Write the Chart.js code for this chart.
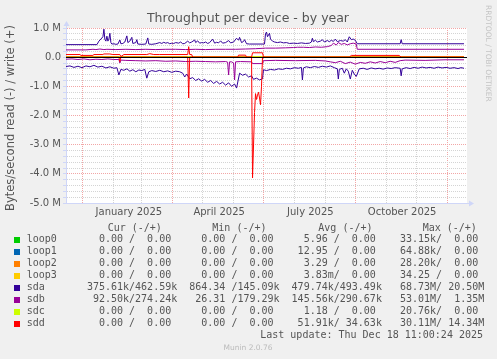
<!DOCTYPE html>
<html lang="en">
<head>
<meta charset="UTF-8">
<title>Throughput per device - by year</title>
<script src="https://cdn.jsdelivr.net/npm/chart.js"></script>
<style>
  html, body { margin: 0; padding: 0; background: #f0f0f0; }
  canvas { display: block; }
</style>
</head>
<body>
<canvas id="throughput" width="497" height="359"></canvas>
<script>
// x = days since the left edge of the graph, y = MB/s (read drawn below zero)
const idleDays = [0, 399];
const idleVals = [0, 0];

const sdaWriteDays = [0, 31, 33, 35, 37, 38, 39, 40, 41, 42, 43, 44, 45, 46, 48, 50, 52, 54, 55, 57, 59, 61, 62, 64, 66, 67, 70, 71, 72, 76, 80, 82, 83, 86, 90, 94, 96, 98, 100, 102, 104, 106, 108, 110, 113, 115, 117, 119, 122, 124, 126, 129, 130, 132, 134, 136, 138, 140, 142, 144, 147, 149, 151, 153, 155, 157, 160, 163, 165, 168, 171, 173, 174, 176, 178, 179, 181, 184, 199, 200, 201, 202, 204, 205, 207, 209, 212, 215, 218, 221, 224, 228, 232, 236, 240, 244, 246, 247, 248, 250, 252, 255, 257, 259, 262, 264, 266, 268, 270, 272, 275, 278, 280, 282, 284, 286, 288, 290, 292, 335, 336, 337, 399];
const sdaWriteVals = [0.43, 0.43, 0.55, 0.62, 0.70, 0.96, 0.60, 0.55, 0.72, 0.55, 0.62, 0.82, 0.50, 0.45, 0.46, 0.44, 0.45, 0.59, 0.46, 0.47, 0.52, 0.73, 0.50, 0.55, 0.68, 0.47, 0.50, 0.60, 0.45, 0.44, 0.45, 0.66, 0.45, 0.44, 0.46, 0.50, 0.47, 0.51, 0.48, 0.50, 0.46, 0.48, 0.47, 0.50, 0.48, 0.52, 0.46, 0.47, 0.55, 0.49, 0.52, 0.59, 0.50, 0.56, 0.48, 0.50, 0.49, 0.52, 0.47, 0.50, 0.62, 0.48, 0.51, 0.49, 0.56, 0.48, 0.50, 0.57, 0.49, 0.52, 0.65, 0.58, 0.68, 0.50, 0.54, 0.60, 0.46, 0.45, 0.45, 0.80, 0.86, 0.70, 0.82, 0.62, 0.55, 0.52, 0.50, 0.52, 0.49, 0.50, 0.47, 0.48, 0.47, 0.49, 0.47, 0.48, 0.52, 0.65, 0.53, 0.58, 0.52, 0.55, 0.60, 0.52, 0.57, 0.53, 0.58, 0.54, 0.62, 0.53, 0.57, 0.55, 0.60, 0.52, 0.70, 0.60, 0.62, 0.58, 0.46, 0.46, 0.60, 0.46, 0.46];

const sdaReadDays = [0, 4, 8, 12, 16, 20, 24, 28, 32, 36, 40, 44, 48, 51, 53, 55, 58, 61, 64, 67, 70, 73, 76, 79, 81, 83, 86, 90, 94, 98, 102, 106, 110, 114, 117, 119, 121, 124, 127, 130, 133, 136, 139, 142, 145, 148, 151, 154, 157, 160, 163, 166, 169, 171, 174, 177, 180, 183, 186, 188, 191, 194, 197, 198, 201, 205, 209, 213, 217, 221, 225, 229, 233, 236, 237, 238, 241, 245, 249, 253, 257, 261, 265, 269, 272, 273, 274, 277, 279, 281, 283, 285, 287, 289, 291, 294, 298, 302, 306, 310, 314, 318, 322, 326, 330, 335, 336, 337, 341, 345, 349, 353, 357, 361, 365, 369, 373, 377, 381, 385, 389, 393, 396, 399];
const sdaReadVals = [0.32, 0.30, 0.35, 0.31, 0.36, 0.30, 0.33, 0.28, 0.34, 0.31, 0.37, 0.33, 0.38, 0.36, 0.61, 0.42, 0.45, 0.40, 0.48, 0.43, 0.50, 0.44, 0.46, 0.42, 0.72, 0.50, 0.46, 0.49, 0.45, 0.50, 0.47, 0.52, 0.48, 0.50, 0.55, 0.68, 0.58, 0.74, 0.70, 0.80, 0.74, 0.82, 0.76, 0.86, 0.80, 0.90, 0.83, 0.92, 0.86, 0.96, 0.88, 1.00, 0.92, 1.06, 0.55, 0.62, 0.58, 0.68, 0.64, 0.76, 0.72, 0.78, 0.74, 0.43, 0.46, 0.42, 0.44, 0.40, 0.42, 0.38, 0.40, 0.36, 0.38, 0.35, 0.78, 0.37, 0.33, 0.36, 0.32, 0.35, 0.31, 0.34, 0.30, 0.36, 0.40, 0.75, 0.42, 0.38, 0.55, 0.40, 0.48, 0.75, 0.45, 0.58, 0.66, 0.40, 0.38, 0.42, 0.37, 0.40, 0.38, 0.41, 0.37, 0.39, 0.36, 0.38, 0.64, 0.40, 0.36, 0.39, 0.35, 0.38, 0.34, 0.37, 0.35, 0.38, 0.34, 0.37, 0.35, 0.38, 0.36, 0.39, 0.36, 0.38];

const sdbWriteDays = [0, 20, 27, 30, 34, 38, 41, 50, 60, 70, 80, 90, 100, 110, 120, 130, 140, 150, 160, 170, 180, 190, 200, 210, 220, 228, 232, 238, 244, 250, 256, 262, 266, 268, 271, 273, 276, 279, 282, 285, 288, 291, 292, 399];
const sdbWriteVals = [0.25, 0.25, 0.27, 0.26, 0.28, 0.26, 0.27, 0.26, 0.27, 0.26, 0.27, 0.26, 0.27, 0.27, 0.26, 0.27, 0.26, 0.27, 0.27, 0.27, 0.28, 0.29, 0.31, 0.31, 0.32, 0.33, 0.34, 0.34, 0.33, 0.35, 0.34, 0.36, 0.40, 0.48, 0.42, 0.50, 0.44, 0.47, 0.42, 0.46, 0.48, 0.45, 0.27, 0.27];

const sdbReadDays = [0, 6, 12, 18, 24, 30, 36, 42, 48, 53, 54, 55, 60, 70, 80, 90, 100, 110, 120, 130, 140, 150, 160, 162, 163, 164, 166, 168, 169, 170, 175, 186, 187, 197, 198, 210, 230, 250, 260, 265, 270, 275, 280, 285, 290, 295, 300, 305, 310, 315, 320, 325, 330, 335, 340, 360, 380, 399];
const sdbReadVals = [0.07, 0.06, 0.08, 0.06, 0.09, 0.07, 0.08, 0.06, 0.08, 0.08, 0.20, 0.10, 0.11, 0.12, 0.13, 0.12, 0.14, 0.13, 0.15, 0.14, 0.15, 0.16, 0.15, 0.17, 0.61, 0.16, 0.16, 0.20, 0.78, 0.16, 0.15, 0.16, 0.22, 0.22, 0.12, 0.11, 0.12, 0.11, 0.13, 0.16, 0.19, 0.14, 0.22, 0.17, 0.24, 0.18, 0.21, 0.16, 0.20, 0.15, 0.19, 0.14, 0.18, 0.12, 0.10, 0.11, 0.09, 0.09];

const sddWriteDays = [0, 14, 15, 27, 28, 37, 38, 44, 47, 54, 55, 58, 81, 84, 88, 94, 122, 123, 124, 126, 127, 172, 173, 180, 181, 186, 187, 197, 198, 284, 286, 334, 336, 399];
const sddWriteVals = [0.09, 0.09, 0.06, 0.06, 0.09, 0.09, 0.11, 0.11, 0.09, 0.09, 0.02, 0.09, 0.09, 0.12, 0.09, 0.09, 0.09, 0.36, 0.09, 0.09, 0, 0, 0.07, 0.07, 0, 0, 0.15, 0.15, 0, 0, 0.06, 0.06, 0, 0];

const sddReadDays = [0, 53, 54, 55, 122, 123, 124, 186, 187, 189, 190, 191, 192, 193, 194, 195, 196, 197, 399];
const sddReadVals = [0, 0, 0.15, 0, 0, 1.40, 0, 0, 4.14, 1.90, 1.25, 1.45, 1.30, 1.20, 1.40, 1.63, 1.00, 0, 0];

// legend table
const devices = ['loop0', 'loop1', 'loop2', 'loop3', 'sda', 'sdb', 'sdc', 'sdd'];
const deviceColors = ['#00CC00', '#0066B3', '#FF8000', '#FFCC00', '#330099', '#990099', '#CCFF00', '#FF0000'];
const curRead = ['0.00', '0.00', '0.00', '0.00', '375.61k', '92.50k', '0.00', '0.00'];
const curWrite = ['0.00', '0.00', '0.00', '0.00', '462.59k', '274.24k', '0.00', '0.00'];
const minRead = ['0.00', '0.00', '0.00', '0.00', '864.34', '26.31', '0.00', '0.00'];
const minWrite = ['0.00', '0.00', '0.00', '0.00', '145.09k', '179.29k', '0.00', '0.00'];
const avgRead = ['5.96', '12.95', '3.29', '3.83m', '479.74k', '145.56k', '1.18', '51.91k'];
const avgWrite = ['0.00', '0.00', '0.00', '0.00', '493.49k', '290.67k', '0.00', '34.63k'];
const maxRead = ['33.15k', '64.88k', '28.20k', '34.25', '68.73M', '53.01M', '20.76k', '30.11M'];
const maxWrite = ['0.00', '0.00', '0.00', '0.00', '20.50M', '1.35M', '0.00', '14.34M'];

// axis ticks: month starts (days), quarter starts get the red grid; MB/s step for the y grid
const monthDays = [17, 48, 76, 107, 137, 168, 198, 229, 260, 290, 321, 351, 382];
const quarterDays = [17, 107, 198, 290, 382];
const quarterLabels = ['January 2025', 'April 2025', 'July 2025', 'October 2025'];
const yMin = -5, yMax = 1, yMinorStep = 0.2;

const seriesData = [
    [idleDays, idleVals, idleDays, idleVals],
    [idleDays, idleVals, idleDays, idleVals],
    [idleDays, idleVals, idleDays, idleVals],
    [idleDays, idleVals, idleDays, idleVals],
    [sdaReadDays, sdaReadVals, sdaWriteDays, sdaWriteVals],
    [sdbReadDays, sdbReadVals, sdbWriteDays, sdbWriteVals],
    [idleDays, idleVals, idleDays, idleVals],
    [sddReadDays, sddReadVals, sddWriteDays, sddWriteVals]
];

function pts(xs, ys, sign) {
    return xs.map((x, i) => ({ x: x, y: sign * ys[i] }));
}

const datasets = [];
devices.forEach((dev, i) => {
    const [rx, ry, wx, wy] = seriesData[i];
    datasets.push({ label: dev + ' read', data: pts(rx, ry, -1), borderColor: deviceColors[i] });
    datasets.push({ label: dev + ' write', data: pts(wx, wy, 1), borderColor: deviceColors[i] });
});
// first dataset is drawn on top in Chart.js, rrdtool draws the last one on top
datasets.reverse();

const labelTicks = quarterLabels.map((l, i) => (quarterDays[i] + quarterDays[i + 1]) / 2 + 1);
const xTickValues = monthDays.concat(labelTicks).sort((a, b) => a - b);
const yTickValues = [];
const nSteps = Math.round((yMax - yMin) / yMinorStep);
for (let i = 0; i <= nSteps; i++) yTickValues.push(+(yMin + i * yMinorStep).toFixed(2));

const isInt = v => Math.abs(v - Math.round(v)) < 1e-6;
const TEXT = '#555555';
const AXIS = '#CFD6F8';
const MINOR = '#d4d4d4';
const MAJOR = '#f2a6a6';

function fmt(s) {
    const m = s.match(/^([\d.]+)([a-zA-Z]?)$/);
    return m[1].padStart(6) + (m[2] || ' ');
}

// dotted rrdtool-style grid, painted underneath what is already on the canvas
function drawGridBehind(chart) {
    const { ctx, chartArea: a, scales } = chart;
    const L = Math.round(a.left), R = Math.round(a.right);
    const T = Math.round(a.top), B = Math.round(a.bottom);
    ctx.save();
    ctx.globalCompositeOperation = 'destination-over';
    yScaleLines(scales.y).forEach(([y, major]) => {
        ctx.fillStyle = major ? MAJOR : MINOR;
        for (let x = L + 1; x < R; x += 2) ctx.fillRect(x, y, 1, 1);
    });
    monthDays.forEach(d => {
        const x = Math.floor(scales.x.getPixelForValue(d));
        ctx.fillStyle = quarterDays.includes(d) ? MAJOR : MINOR;
        for (let y = T; y < B; y += 2) ctx.fillRect(x, y, 1, 1);
    });
    ctx.fillStyle = '#ffffff';
    ctx.fillRect(a.left, a.top, a.right - a.left, a.bottom - a.top);
    ctx.fillStyle = '#f0f0f0';
    ctx.fillRect(0, 0, chart.width, chart.height);
    ctx.restore();
}

function yScaleLines(yScale) {
    const out = [];
    for (let i = 0; i < yScale.ticks.length; i++) {
        const v = yScale.ticks[i].value;
        if (v <= yMin) continue;
        out.push([Math.floor(yScale.getPixelForTick(i)), isInt(v)]);
    }
    return out;
}

const rrdPlugin = {
    id: 'rrd',
    afterDatasetsDraw(chart) {
        const { ctx, chartArea: a } = chart;
        const y0 = Math.floor(chart.scales.y.getPixelForValue(0)) + 0.5;
        ctx.save();
        ctx.strokeStyle = '#000000';
        ctx.lineWidth = 1;
        ctx.beginPath();
        ctx.moveTo(a.left, y0);
        ctx.lineTo(a.right, y0);
        ctx.stroke();
        ctx.restore();
    },
    afterDraw(chart) {
        const { ctx, chartArea: a } = chart;
        drawGridBehind(chart);
        ctx.save();

        // axis arrows
        ctx.fillStyle = AXIS;
        ctx.strokeStyle = AXIS;
        ctx.lineWidth = 1;
        ctx.beginPath();
        ctx.moveTo(a.left + 0.5, a.top);
        ctx.lineTo(a.left + 0.5, a.top - 4);
        ctx.moveTo(a.right, a.bottom + 0.5);
        ctx.lineTo(a.right + 3, a.bottom + 0.5);
        ctx.stroke();
        ctx.beginPath();
        ctx.moveTo(a.left + 0.5, a.top - 7);
        ctx.lineTo(a.left - 2.5, a.top - 2);
        ctx.lineTo(a.left + 3.5, a.top - 2);
        ctx.closePath();
        ctx.fill();
        ctx.beginPath();
        ctx.moveTo(a.right + 7, a.bottom + 0.5);
        ctx.lineTo(a.right + 2, a.bottom - 2.5);
        ctx.lineTo(a.right + 2, a.bottom + 3.5);
        ctx.closePath();
        ctx.fill();

        // title
        ctx.fillStyle = TEXT;
        ctx.font = '12.5px "DejaVu Sans"';
        ctx.textAlign = 'center';
        ctx.textBaseline = 'middle';
        ctx.fillText('Throughput per device - by year', 248, 19);

        // vertical axis title
        ctx.save();
        ctx.translate(11, 118);
        ctx.rotate(-Math.PI / 2);
        ctx.font = '11.5px "DejaVu Sans"';
        ctx.fillText('Bytes/second read (-) / write (+)', 0, 0);
        ctx.restore();

        // rrdtool watermark
        ctx.save();
        ctx.translate(488, 5);
        ctx.rotate(Math.PI / 2);
        ctx.font = '7.5px "DejaVu Sans"';
        ctx.textAlign = 'left';
        ctx.fillStyle = '#c4c4c4';
        ctx.fillText('RRDTOOL / TOBI OETIKER', 0, 0);
        ctx.restore();

        // legend
        ctx.font = '10px "DejaVu Sans Mono"';
        ctx.textAlign = 'left';
        ctx.fillStyle = TEXT;
        ctx.fillText('Cur (-/+)', 107.7, 228);
        ctx.fillText('Min (-/+)', 212.3, 228);
        ctx.fillText('Avg (-/+)', 318.3, 228);
        ctx.fillText('Max (-/+)', 422.7, 228);
        devices.forEach((dev, i) => {
            const y = 239.5 + i * 12;
            ctx.fillStyle = deviceColors[i];
            ctx.fillRect(14, Math.round(y) - 3, 6, 6);
            const row = dev.padEnd(10) +
                fmt(curRead[i]) + '/' + fmt(curWrite[i]) + '  ' +
                fmt(minRead[i]) + '/' + fmt(minWrite[i]) + '  ' +
                fmt(avgRead[i]) + '/' + fmt(avgWrite[i]) + '  ' +
                fmt(maxRead[i]) + '/' + fmt(maxWrite[i]);
            ctx.fillStyle = TEXT;
            ctx.fillText(row, 26.7, y);
        });
        ctx.textAlign = 'right';
        ctx.fillText('Last update: Thu Dec 18 11:00:24 2025', 483, 335.5);

        ctx.textAlign = 'center';
        ctx.fillStyle = '#bbbbbb';
        ctx.font = '7.5px "DejaVu Sans"';
        ctx.fillText('Munin 2.0.76', 248, 348.5);
        ctx.restore();
    }
};

const ctx = document.getElementById('throughput').getContext('2d');
new Chart(ctx, {
    type: 'line',
    data: { datasets: datasets },
    plugins: [rrdPlugin],
    options: {
        responsive: false,
        animation: false,
        devicePixelRatio: 1,
        layout: { padding: { top: 28, right: 30, left: 0, bottom: 0 } },
        plugins: {
            legend: { display: false },
            title: { display: false },
            tooltip: { enabled: false }
        },
        elements: {
            point: { radius: 0 },
            line: { borderWidth: 1, tension: 0, fill: false }
        },
        scales: {
            x: {
                type: 'linear',
                min: 0,
                max: 402,
                afterBuildTicks: s => { s.ticks = xTickValues.map(v => ({ value: v })); },
                afterFit: s => { s.height = 156; },
                grid: { drawOnChartArea: false, drawTicks: false },
                border: { color: AXIS, width: 1 },
                ticks: {
                    autoSkip: false,
                    maxRotation: 0,
                    padding: 3,
                    color: TEXT,
                    font: { family: 'DejaVu Sans', size: 10 },
                    callback: v => {
                        const k = labelTicks.indexOf(v);
                        return k >= 0 ? quarterLabels[k] : '';
                    }
                }
            },
            y: {
                type: 'linear',
                min: yMin,
                max: yMax,
                afterBuildTicks: s => { s.ticks = yTickValues.map(v => ({ value: v })); },
                afterFit: s => { s.width = 66; },
                grid: { drawOnChartArea: false, drawTicks: true, tickLength: 3, tickColor: AXIS },
                border: { color: AXIS, width: 1 },
                ticks: {
                    autoSkip: false,
                    padding: 2,
                    color: TEXT,
                    font: { family: 'DejaVu Sans', size: 10 },
                    callback: v => {
                        if (!isInt(v)) return '';
                        const r = Math.round(v);
                        return r === 0 ? '0.0' : r.toFixed(1) + ' M';
                    }
                }
            }
        }
    }
});
</script>
</body>
</html>
